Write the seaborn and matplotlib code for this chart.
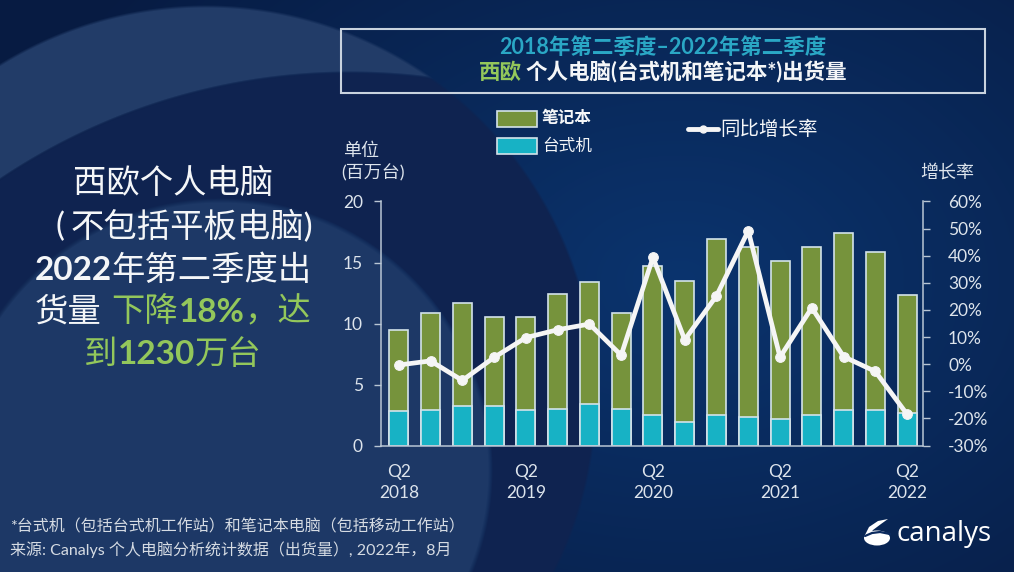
import numpy as np
import pandas as pd
import matplotlib
matplotlib.use("Agg")
import matplotlib.pyplot as plt
import seaborn as sns
from matplotlib.patches import Rectangle, Ellipse, Polygon

# ---------------- data ----------------
quarters = ["Q2 2018", "Q3 2018", "Q4 2018", "Q1 2019", "Q2 2019", "Q3 2019", "Q4 2019",
            "Q1 2020", "Q2 2020", "Q3 2020", "Q4 2020", "Q1 2021", "Q2 2021", "Q3 2021",
            "Q4 2021", "Q1 2022", "Q2 2022"]
notebooks = [6.7, 8.0, 8.5, 7.3, 7.6, 9.4, 10.0, 7.9, 12.2, 11.6, 14.4, 14.0, 12.9, 13.8, 14.5, 13.0, 9.6]
desktops = [2.8, 2.9, 3.2, 3.2, 2.9, 3.0, 3.4, 3.0, 2.5, 1.9, 2.5, 2.3, 2.2, 2.5, 2.9, 2.9, 2.7]
growth = [-0.3, 1.2, -6.0, 2.5, 9.8, 12.7, 14.8, 3.3, 39.4, 9.0, 25.2, 49.2, 2.6, 20.8, 2.8, -2.7, -18.5]
left_ticks = [0, 5, 10, 15, 20]
right_ticks = [-30, -20, -10, 0, 10, 20, 30, 40, 50, 60]

# ---------------- style ----------------
sns.set_style("ticks")
FAM = ["Lato", "Noto Sans CJK SC", "DejaVu Sans"]
plt.rcParams["font.family"] = FAM
plt.rcParams["axes.unicode_minus"] = False

GREEN_BAR = "#76933c"
TEAL_BAR = "#17b2c5"
BAR_EDGE = "#d3e3ea"
LINE = "#f5f5f5"
SPINE = "#b9c6d4"
TICKTXT = "#dde4ec"
TITLE_TEAL = "#2aa7c5"
ACCENT = "#93c75b"
WHITE = "#f4f6f8"

W, H = 1014, 572
fig = plt.figure(figsize=(W / 100, H / 100), dpi=100)

# ---------------- background ----------------
yy, xx = np.mgrid[0:H, 0:W].astype(float)
inner = np.array([11, 52, 110]) / 255
outer = np.array([7, 27, 66]) / 255
d = np.sqrt(((xx - 680) / 560) ** 2 + ((yy - 280) / 400) ** 2)
t = np.clip(d / 1.25, 0, 1)[..., None]
img = inner * (1 - t) + outer * t


def inside(cx, cy, r, soft=3.0):
    return np.clip((r - np.hypot(xx - cx, yy - cy)) / soft + 0.5, 0, 1)[..., None]


inO = inside(205, 396, 390)
inS = inside(350, 700, 628)
low = inside(220, 470, 270, soft=5)
crescent = inO * (1 - inS)
swoosh = inO * inS * (1 - low)
img = img * (1 - crescent) + (np.array([34, 60, 104]) / 255) * crescent
img = img * (1 - swoosh) + (np.array([15, 35, 80]) / 255) * swoosh
img = img * (1 - low) + (np.array([29, 56, 102]) / 255) * low

bg = fig.add_axes([0, 0, 1, 1])
bg.imshow(img, extent=(0, W, H, 0), aspect="auto", interpolation="bilinear")
bg.set_xlim(0, W)
bg.set_ylim(H, 0)
bg.axis("off")

renderer = fig.canvas.get_renderer()


def rich(xc, y, segs, size, ha="center"):
    items = []
    for s in segs:
        if isinstance(s, (int, float)):
            items.append((None, float(s)))
            continue
        txt, color, weight = s
        tt = bg.text(0, y, txt, color=color, fontsize=size, fontweight=weight,
                     va="center", ha="left", family=FAM)
        items.append((tt, tt.get_window_extent(renderer=renderer).width))
    total = sum(w for _, w in items)
    x = xc - total / 2 if ha == "center" else xc
    for tt, w in items:
        if tt is not None:
            tt.set_x(x)
        x += w


# ---------------- title box ----------------
bg.add_patch(Rectangle((341, 29), 644, 64, fill=False, edgecolor="#c9d3de", lw=1.5))
rich(663, 47, [("2018年第二季度–2022年第二季度", TITLE_TEAL, "bold")], 15.5)
rich(663, 72, [("西欧", ACCENT, "bold"), 4, ("个人电脑(台式机和笔记本*)出货量", WHITE, "bold")], 15.5)

# ---------------- legend ----------------
bg.add_patch(Rectangle((497, 111), 40, 16, facecolor=GREEN_BAR, edgecolor=BAR_EDGE, lw=1.2))
bg.add_patch(Rectangle((497, 138), 40, 16, facecolor=TEAL_BAR, edgecolor=BAR_EDGE, lw=1.2))
bg.text(542, 118, "笔记本", color=WHITE, fontsize=12, fontweight="bold", va="center", ha="left")
bg.text(542, 146, "台式机", color=WHITE, fontsize=12, va="center", ha="left")
bg.plot([688, 718], [129, 129], color=LINE, lw=3.5, solid_capstyle="round")
bg.plot([703], [129], "o", color=LINE, ms=5)
bg.text(720, 129, "同比增长率", color=WHITE, fontsize=14, va="center", ha="left")

# axis titles
bg.text(343, 151, "单位", color=TICKTXT, fontsize=13, va="center", ha="left")
bg.text(341, 173, "(百万台)", color=TICKTXT, fontsize=13, va="center", ha="left")
bg.text(974, 172, "增长率", color=TICKTXT, fontsize=13, va="center", ha="right")

# ---------------- left summary text ----------------
S = 24
rich(173, 183, [("西欧个人电脑", WHITE, "normal")], S)
rich(184, 227, [("(", WHITE, "normal"), 6, ("不包括平板电脑)", WHITE, "normal")], S)
rich(173, 270, [("2022", WHITE, "bold"), ("年第二季度出", WHITE, "normal")], S)
rich(173, 312, [("货量", WHITE, "normal"), 10, ("下降", ACCENT, "normal"), ("18%", ACCENT, "bold"),
                ("，达", ACCENT, "normal")], S)
rich(173, 355, [("到", ACCENT, "normal"), ("1230", ACCENT, "bold"), ("万台", ACCENT, "normal")], S)

# ---------------- footer ----------------
bg.text(10, 527, "*台式机（包括台式机工作站）和笔记本电脑（包括移动工作站）", color="#d5dbe3",
        fontsize=11.5, va="center", ha="left")
bg.text(10, 550, "来源: Canalys 个人电脑分析统计数据（出货量）, 2022年，8月", color="#d5dbe3",
        fontsize=11.5, va="center", ha="left")

# canalys logo
bg.add_patch(Ellipse((877, 538), 26, 15, facecolor="white", edgecolor="none"))
bg.add_patch(Polygon([(864, 537), (869, 527), (878, 521), (888, 519), (881, 524), (873, 530), (868, 537)],
                     closed=True, facecolor="white", edgecolor="none"))
bg.plot([865, 872, 880, 890], [536, 533, 532, 534], color="#0b2a5e", lw=1.6)
bg.text(897, 534, "canalys", color="white", fontsize=20, va="center", ha="left", family=["Open Sans"])

# ---------------- chart ----------------
df = pd.DataFrame({"quarter": quarters, "notebook": notebooks, "desktop": desktops, "growth": growth})
df["total"] = df["notebook"] + df["desktop"]

ax = fig.add_axes([381 / W, 1 - 445.5 / H, 542 / W, 244 / H])
ax.patch.set_visible(False)
sns.barplot(data=df, x="quarter", y="total", color=GREEN_BAR, saturation=1, width=0.6,
            edgecolor=BAR_EDGE, linewidth=1.2, errorbar=None, ax=ax)
sns.barplot(data=df, x="quarter", y="desktop", color=TEAL_BAR, saturation=1, width=0.6,
            edgecolor=BAR_EDGE, linewidth=1.2, errorbar=None, ax=ax)
ax.set_xlim(-0.56, len(quarters) - 0.5)
ax.set_ylim(0, 20)
ax.set_yticks(left_ticks)
ax.set_xlabel("")
ax.set_ylabel("")
xlabels = [q.replace(" ", "\n") if q.startswith("Q2") else "" for q in quarters]
ax.set_xticks(range(len(quarters)))
ax.set_xticklabels(xlabels, linespacing=1.45)
ax.tick_params(axis="x", length=0, pad=13, labelsize=12.5, labelcolor=TICKTXT)
ax.tick_params(axis="y", length=5, width=1, color=SPINE, pad=8, labelsize=12.5, labelcolor=TICKTXT)
for side in ["top", "right"]:
    ax.spines[side].set_visible(False)
for side in ["left", "bottom"]:
    ax.spines[side].set_color(SPINE)
    ax.spines[side].set_linewidth(1.1)

ax2 = ax.twinx()
ax2.patch.set_visible(False)
sns.lineplot(x=np.arange(len(quarters)), y=df["growth"], ax=ax2, color=LINE, lw=3.4,
             marker="o", markersize=7, markeredgecolor=LINE, markerfacecolor=LINE)
ax2.set_ylim(-30, 60)
ax2.set_yticks(right_ticks)
ax2.set_yticklabels([f"{v}%" for v in right_ticks])
ax2.set_ylabel("")
ax2.tick_params(axis="y", length=5, width=1, color=SPINE, pad=13, labelsize=12.5, labelcolor=TICKTXT)
for side in ["top", "left", "bottom"]:
    ax2.spines[side].set_visible(False)
ax2.spines["right"].set_color(SPINE)
ax2.spines["right"].set_linewidth(1.1)
ax2.set_xlim(-0.56, len(quarters) - 0.5)

fig.savefig("out.png", dpi=100)
